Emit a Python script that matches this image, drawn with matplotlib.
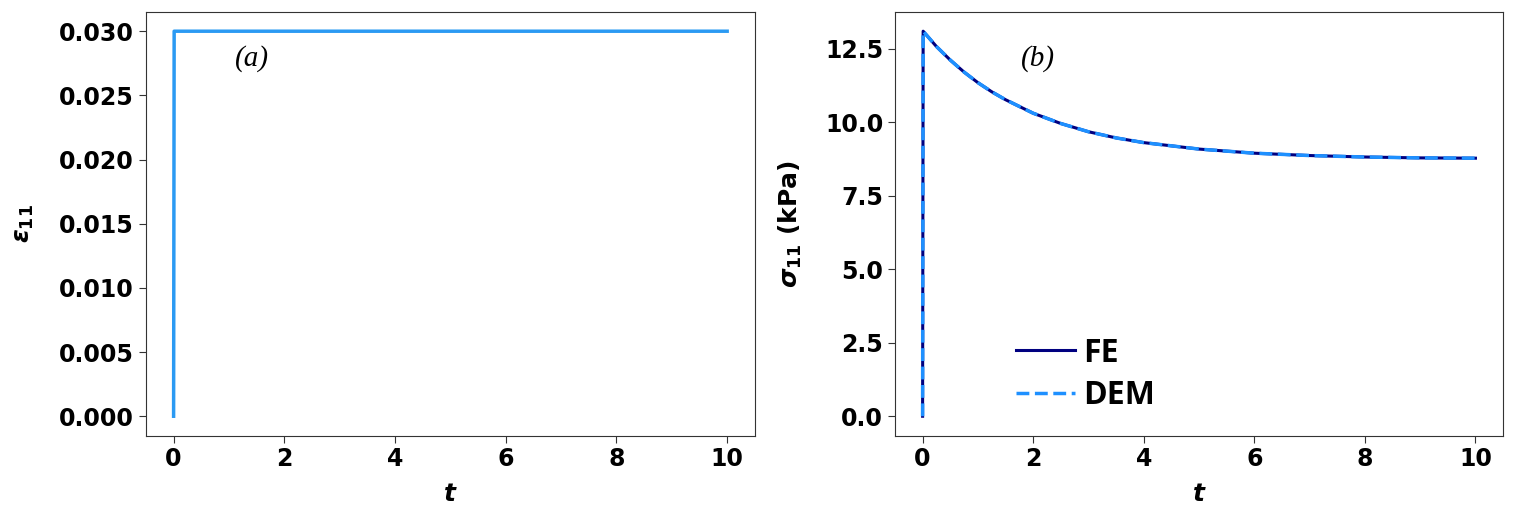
import matplotlib.pyplot as plt

# strain input (panel a)
t_strain = [0.0, 0.01, 10.0]
eps_11 = [0.0, 0.03, 0.03]

# stress response (panel b)
t_stress = [0.0, 0.01, 0.25, 0.5, 0.75, 1.0, 1.25, 1.5, 2.0, 2.5, 3.0, 3.5, 4.0, 5.0, 6.0, 7.0, 8.0, 9.0, 10.0]
sigma_fe = [0.0, 13.1, 12.58, 12.12, 11.71, 11.35, 11.04, 10.77, 10.31, 9.96, 9.68, 9.47, 9.31, 9.09, 8.95, 8.87, 8.82, 8.79, 8.78]
sigma_dem = [0.0, 13.1, 12.58, 12.12, 11.71, 11.35, 11.04, 10.77, 10.31, 9.96, 9.68, 9.47, 9.31, 9.09, 8.95, 8.87, 8.82, 8.79, 8.78]

plt.rcParams['font.weight'] = 'bold'
plt.rcParams['axes.labelweight'] = 'bold'
plt.rcParams['mathtext.fontset'] = 'custom'
plt.rcParams['mathtext.it'] = 'DejaVu Sans:bold:italic'
plt.rcParams['mathtext.rm'] = 'DejaVu Sans:bold'
plt.rcParams['axes.edgecolor'] = '#333333'
plt.rcParams['xtick.color'] = '#333333'
plt.rcParams['ytick.color'] = '#333333'
plt.rcParams['xtick.labelcolor'] = 'black'
plt.rcParams['ytick.labelcolor'] = 'black'

fig = plt.figure(figsize=(15.28, 5.2), dpi=100)
ax1 = fig.add_axes([0.0955, 0.1625, 0.3985, 0.8145])
ax2 = fig.add_axes([0.5857, 0.1625, 0.398, 0.8145])

# panel (a)
ax1.plot(t_strain, eps_11, color='#2b9af3', linewidth=2.5)
ax1.set_xticks([0, 2, 4, 6, 8, 10])
ax1.set_yticks([0.0, 0.005, 0.010, 0.015, 0.020, 0.025, 0.030])
ax1.set_yticklabels(['0.000', '0.005', '0.010', '0.015', '0.020', '0.025', '0.030'])
ax1.set_xlabel(r'$t$', fontsize=18, labelpad=8)
ax1.set_ylabel(r'$\varepsilon_{11}$', fontsize=18, labelpad=17)
ax1.text(0.175, 0.89, '(a)', transform=ax1.transAxes, fontsize=21,
         family='Liberation Serif', style='italic', weight='normal', ha='center', va='center')

# panel (b)
ax2.plot(t_stress, sigma_fe, color='#000080', linewidth=2.2, label='FE')
ax2.plot(t_stress, sigma_dem, color='#1e90ff', linewidth=2.5, linestyle='--', label='DEM')
ax2.set_xticks([0, 2, 4, 6, 8, 10])
ax2.set_yticks([0.0, 2.5, 5.0, 7.5, 10.0, 12.5])
ax2.set_xlabel(r'$t$', fontsize=18, labelpad=8)
ax2.set_ylabel(r'$\sigma_{11}$ (kPa)', fontsize=18, labelpad=15)
ax2.text(0.235, 0.89, '(b)', transform=ax2.transAxes, fontsize=21,
         family='Liberation Serif', style='italic', weight='normal', ha='center', va='center')
ax2.legend(loc='lower left', bbox_to_anchor=(0.152, -0.013), frameon=False,
           prop={'family': 'Open Sans', 'weight': 'bold', 'size': 23},
           handlelength=1.85, handletextpad=0.25, labelspacing=0.3)

for ax in (ax1, ax2):
    ax.tick_params(labelsize=17, length=5)

plt.savefig('out.png', dpi=100)
